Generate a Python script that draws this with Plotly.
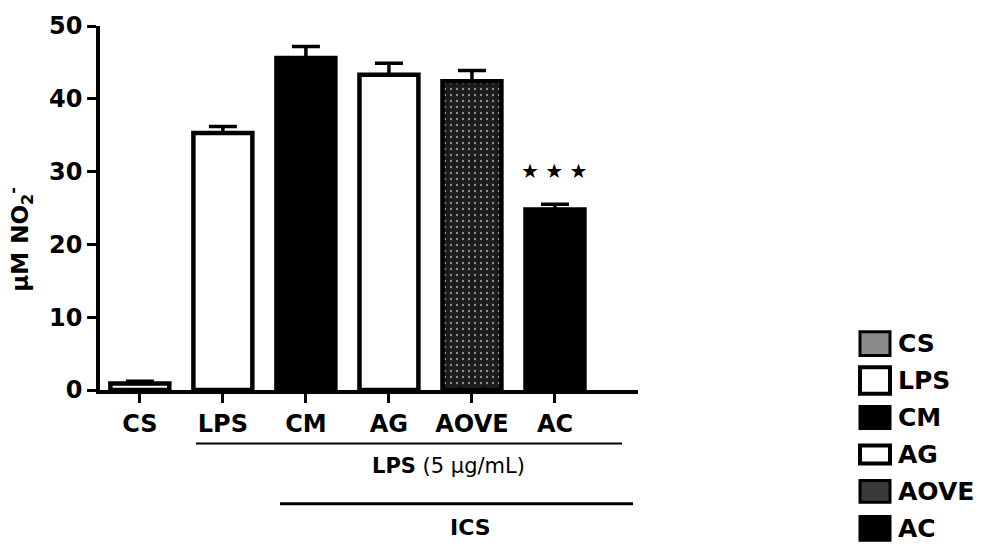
import plotly.graph_objects as go

categories = ["CS", "LPS", "CM", "AG", "AOVE", "AC"]
values = [0.9, 35.3, 45.6, 43.3, 42.4, 24.8]
errors = [0.3, 0.9, 1.6, 1.6, 1.5, 0.7]
y_ticks = [0, 10, 20, 30, 40, 50]
bar_fills = ["white", "white", "black", "white", "#1c1c1c", "black"]
legend_fills = ["#8a8a8a", "white", "black", "white", "#3a3a3a", "black"]
legend_heights = [24, 27, 22, 18, 22, 24]
significance = {"AC": "★ ★ ★"}
group1_label = "<b>LPS</b> (5 μg/mL)"
group2_label = "<b>ICS</b>"

W, H = 999, 548
ML, MR, MT, MB = 100, 361, 22, 158
PW, PH = W - ML - MR, H - MT - MB

def px(x):
    return (x - ML) / PW

def py(y):
    return (H - MB - y) / PH

FONT = "DejaVu Sans"

fig = go.Figure()
fig.add_trace(go.Bar(
    x=categories, y=values, width=0.71,
    marker=dict(
        color=bar_fills,
        line=dict(color="black", width=4.5),
        pattern=dict(shape=["", "", "", "", ".", ""], fgcolor="#3a3a3a",
                     bgcolor="#0d0d0d", size=6, solidity=0.12),
    ),
    error_y=dict(type="data", symmetric=False, array=errors,
                 arrayminus=[0] * len(errors), color="black",
                 thickness=3.5, width=14),
    showlegend=False,
))

annotations = []
shapes = []

for cat, txt in significance.items():
    i = categories.index(cat)
    annotations.append(dict(x=cat, y=values[i] + errors[i], xref="x", yref="y",
                            text=txt, showarrow=False, yshift=33,
                            xanchor="center", yanchor="middle",
                            font=dict(family=FONT, size=20, color="black")))

# y-axis title
annotations.append(dict(x=0, y=py(238), xref="paper", yref="paper", xshift=-80,
                        xanchor="center", yanchor="middle",
                        text="<b>μM NO<sub>2</sub><sup>-</sup></b>", textangle=-90,
                        showarrow=False,
                        font=dict(family=FONT, size=23, color="black")))

# group lines and labels
shapes.append(dict(type="line", xref="paper", yref="paper",
                   x0=px(196), x1=px(622), y0=py(444), y1=py(444),
                   line=dict(color="black", width=2)))
shapes.append(dict(type="line", xref="paper", yref="paper",
                   x0=px(280), x1=px(633), y0=py(505), y1=py(505),
                   line=dict(color="black", width=3)))
annotations.append(dict(x=px(448), y=py(467), xref="paper", yref="paper",
                        xanchor="center", yanchor="middle",
                        text=group1_label, showarrow=False,
                        font=dict(family=FONT, size=21, color="black")))
annotations.append(dict(x=px(470), y=py(529), xref="paper", yref="paper",
                        xanchor="center", yanchor="middle",
                        text=group2_label, showarrow=False,
                        font=dict(family=FONT, size=22, color="black")))

# manual legend
for k, cat in enumerate(categories):
    cy = 343 + k * 37.4
    h = legend_heights[k]
    shapes.append(dict(type="rect", xref="paper", yref="paper",
                       x0=px(860), x1=px(890), y0=py(cy - h / 2), y1=py(cy + h / 2),
                       fillcolor=legend_fills[k],
                       line=dict(color="black", width=4 if legend_fills[k] == "white" else 3)))
    annotations.append(dict(x=px(896), y=py(cy), xref="paper", yref="paper",
                            xanchor="left", yanchor="middle",
                            text="<b>" + cat + "</b>", showarrow=False,
                            font=dict(family=FONT, size=25, color="black")))

fig.update_layout(
    width=W, height=H,
    margin=dict(l=ML, r=MR, t=MT, b=MB),
    paper_bgcolor="white", plot_bgcolor="white",
    xaxis=dict(range=[-0.48, 6.0], showline=True, linecolor="black", linewidth=3.5,
               ticks="outside", ticklen=9, tickwidth=3, tickcolor="black",
               tickfont=dict(family=FONT, size=24, color="black"),
               tickmode="array", tickvals=categories,
               ticktext=["<b>" + c + "</b>" for c in categories],
               showgrid=False, zeroline=False, fixedrange=True),
    yaxis=dict(range=[0, 50], showline=True, linecolor="black", linewidth=3.5,
               ticks="outside", ticklen=9, tickwidth=3, tickcolor="black",
               tickvals=y_ticks, ticktext=["<b>%d</b>" % v for v in y_ticks],
               tickfont=dict(family=FONT, size=24, color="black"),
               showgrid=False, zeroline=False),
    annotations=annotations, shapes=shapes,
)

fig.write_html("out.html", config={"displayModeBar": False},
               post_script="document.body.style.margin='0';document.body.style.overflow='hidden';")
